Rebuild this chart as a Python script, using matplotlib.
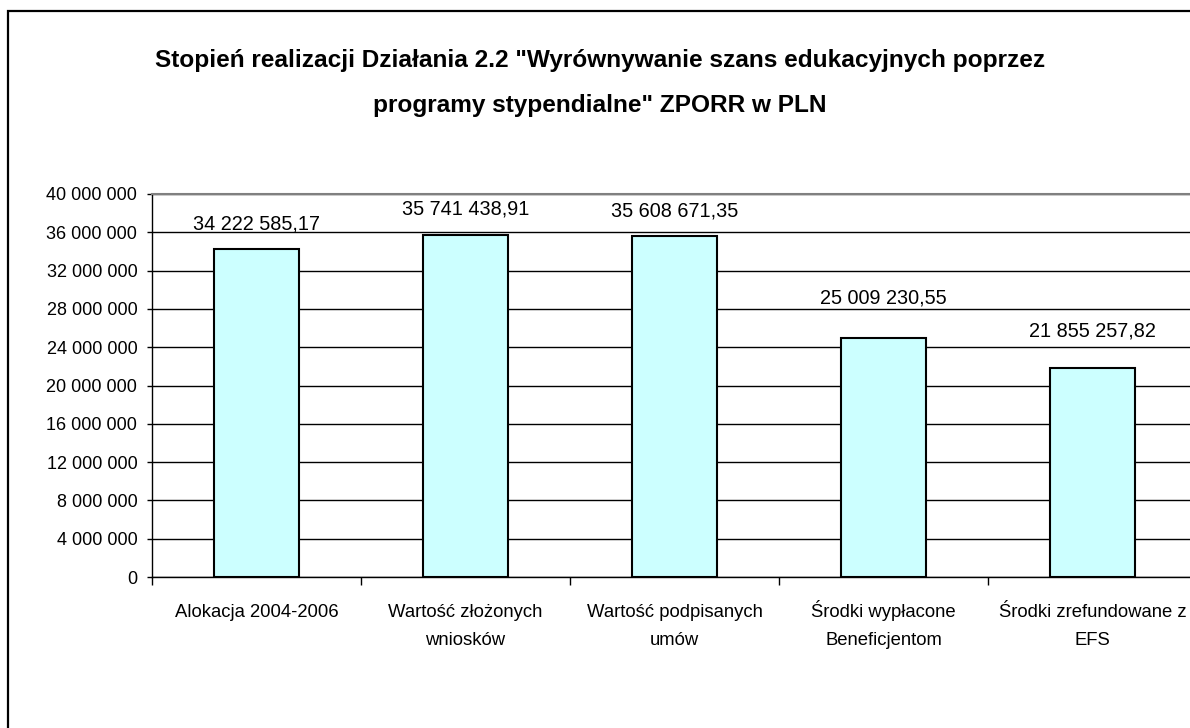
"""
Stopień realizacji Działania 2.2 ZPORR - bar chart recreation.
"""

import matplotlib
matplotlib.use("Agg")
import matplotlib.pyplot as plt
import numpy as np
from matplotlib.patches import Rectangle
from matplotlib.ticker import FuncFormatter
from matplotlib.transforms import blended_transform_factory


categories = [
    "Alokacja 2004-2006",
    "Wartość złożonych\nwniosków",
    "Wartość podpisanych\numów",
    "Środki wypłacone\nBeneficjentom",
    "Środki zrefundowane z\nEFS",
]
values = [34222585.17, 35741438.91, 35608671.35, 25009230.55, 21855257.82]
value_labels = ["34 222 585,17", "35 741 438,91", "35 608 671,35",
                "25 009 230,55", "21 855 257,82"]
y_ticks = np.arange(0, 40000001, 4000000)

title_lines = ['Stopień realizacji Działania 2.2 "Wyrównywanie szans edukacyjnych poprzez',
               'programy stypendialne" ZPORR w PLN']

plt.rcParams["font.family"] = ["Liberation Sans", "DejaVu Sans"]

W, H = 1190, 728
fig = plt.figure(figsize=(W / 100, H / 100), dpi=100)

# outer chart frame (right/bottom edges fall outside the picture)
fig.patches.append(Rectangle((8 / W, -0.05), 1.2, 1 - 11 / H + 0.05,
                             transform=fig.transFigure, fill=False,
                             edgecolor="black", linewidth=1.6))

left, right, bottom, top = 152, 1197, 577, 194
ax = fig.add_axes([left / W, 1 - bottom / H, (right - left) / W, (bottom - top) / H])

x = np.arange(len(categories))
ax.bar(x, values, width=0.41, color="#CCFFFF", edgecolor="black",
       linewidth=1.5, zorder=3)

ax.set_xlim(-0.5, len(categories) - 0.5)
ax.set_ylim(0, 40000000)
ax.set_yticks(y_ticks)
ax.yaxis.set_major_formatter(FuncFormatter(lambda v, p: f"{int(v):,}".replace(",", " ")))
ax.grid(axis="y", color="black", linewidth=1.0, zorder=0)
ax.set_axisbelow(True)

# category ticks sit on the boundaries
ax.set_xticks(np.arange(len(categories) + 1) - 0.5)
ax.set_xticklabels([])
ax.tick_params(axis="x", length=6, width=1, direction="out")
ax.tick_params(axis="y", length=3.6, width=1, labelsize=13, pad=7)

for s in ("left", "bottom"):
    ax.spines[s].set_color("black")
    ax.spines[s].set_linewidth(1.0)
ax.spines["right"].set_visible(False)
ax.spines["top"].set_color("#808080")
ax.spines["top"].set_linewidth(1.5)

# category labels, one line at a time so both rows share baselines
tr = blended_transform_factory(ax.transData, fig.transFigure)
for xi, cat in zip(x, categories):
    for k, line in enumerate(cat.split("\n")):
        ax.text(xi, 1 - (617 + 28 * k) / H, line, transform=tr, ha="center",
                va="baseline", fontsize=13.3, clip_on=False)

label_offsets = [20, 20, 20, 34, 31]  # pixels above the bar top
for xi, v, lab, off in zip(x, values, value_labels, label_offsets):
    ax.annotate(lab, (xi, v), xytext=(0, off * 0.72), textcoords="offset points",
                ha="center", va="baseline", fontsize=14.3, zorder=4)

for k, line in enumerate(title_lines):
    fig.text(0.504, 1 - (67 + 45 * k) / H, line, ha="center", va="baseline",
             fontsize=17.6, fontweight="bold")

fig.savefig("out.png", dpi=100)
